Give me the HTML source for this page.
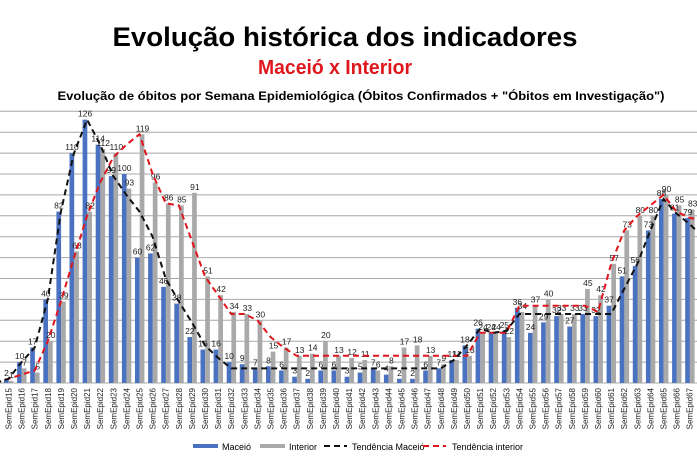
<!DOCTYPE html>
<html><head><meta charset="utf-8"><style>body{margin:0;background:#fff}svg{display:block}text{font-family:"Liberation Sans",Arial,sans-serif}</style></head><body>
<svg id="s" width="697" height="465" xmlns="http://www.w3.org/2000/svg">
<text x="345" y="46" text-anchor="middle" font-size="27" font-weight="bold" textLength="465" lengthAdjust="spacingAndGlyphs">Evolução histórica dos indicadores</text>
<text x="335" y="74" text-anchor="middle" font-size="20" font-weight="bold" fill="#e0161d" textLength="154" lengthAdjust="spacingAndGlyphs">Maceió x Interior</text>
<text x="361" y="100" text-anchor="middle" font-size="12" font-weight="bold" textLength="607" lengthAdjust="spacingAndGlyphs">Evolução de óbitos por Semana Epidemiológica (Óbitos Confirmados + "Óbitos em Investigação")</text>
<g id="g"></g>
</svg>
<script>
var M={14:0,15:2,16:10,17:17,18:40,19:82,20:110,21:126,22:114,23:99,24:100,25:60,26:62,27:46,28:38,29:22,30:16,31:16,32:10,33:9,34:7,35:8,36:6,37:3,38:2,39:6,40:6,41:3,42:5,43:7,44:4,45:2,46:2,47:6,48:7,49:11,50:18,51:26,52:24,53:25,54:36,55:24,56:29,57:32,58:27,59:33,60:32,61:37,62:51,63:56,64:73,65:88,66:81,67:79};
var I={14:0,15:1,16:7,17:5,18:20,19:39,20:63,21:82,22:112,23:110,24:93,25:119,26:96,27:86,28:85,29:91,30:51,31:42,32:34,33:33,34:30,35:15,36:17,37:13,38:14,39:20,40:13,41:12,42:11,43:6,44:8,45:17,46:18,47:13,48:9,49:11,50:13,51:24,52:24,53:22,54:34,55:37,56:40,57:33,58:33,59:45,60:42,61:57,62:73,63:80,64:80,65:90,66:85,67:83};
var TB={14:0,15:2,16:10,17:17,18:40,19:82,20:110,21:126,22:114,23:99,24:90,25:82,26:70,27:50,28:39,29:29,30:18,31:12,32:7,33:7,48:7,49:11,50:18,51:26,52:24,53:25,54:33,61:33,62:45,63:57,64:73,65:88,66:81,67:76,68:70};
var TR={14:0,15:2,16:4,17:6,18:20,19:39,20:60,21:80,22:96,23:108,24:114,25:119,26:100,27:86,28:85,29:68,30:51,31:42,32:33,33:33,34:30,35:22,36:17,37:13,50:13,51:24,52:24,53:24,54:37,59:37,60:34,61:57,62:73,63:80,64:85,65:90,66:82,67:79,68:78};
var b=383,k=2.09;function X(w){return 8.5+(w-15)*13.1}function Y(v){return b-v*k}
var h='';
for(var v=0;v<=130;v+=10)h+='<line x1="0" x2="697" y1="'+Y(v)+'" y2="'+Y(v)+'" stroke="#a8a8a8" stroke-width="1"/>';
for(var w=14;w<=68;w++){var c=X(w);
 if(M[w]!=null){h+='<rect x="'+(c-4.5)+'" y="'+Y(M[w])+'" width="4.7" height="'+M[w]*k+'" fill="#4a72c0"/>';
 h+='<rect x="'+(c+0.2)+'" y="'+Y(I[w])+'" width="4.7" height="'+I[w]*k+'" fill="#a9a9a9"/>';
 if(w>14){h+='<text x="'+(c-2)+'" y="'+(Y(M[w])-3)+'" font-size="8.5" text-anchor="middle" fill="#222">'+M[w]+'</text>';
 h+='<text x="'+(c+3)+'" y="'+(Y(I[w])-3)+'" font-size="8.5" text-anchor="middle" fill="#222">'+I[w]+'</text>';}}
 h+='<text transform="translate('+(c+3)+',388) rotate(-90)" font-size="8" text-anchor="end" fill="#222">SemEpid'+w+'</text>';}
function P(T){var ks=Object.keys(T).map(Number).sort(function(a,b){return a-b}),p=[];for(var i=0;i<ks.length;i++)p.push(X(ks[i]).toFixed(1)+','+Y(T[ks[i]]).toFixed(1));return p.join(' ')}
h+='<polyline points="'+P(TR)+'" fill="none" stroke="#e0161d" stroke-width="2" stroke-dasharray="6,4"/>';
h+='<polyline points="'+P(TB)+'" fill="none" stroke="#111" stroke-width="2" stroke-dasharray="6,4"/>';
h+='<rect x="193" y="444" width="25" height="4" fill="#4a72c0"/><text x="222" y="450" font-size="9">Maceió</text>';
h+='<rect x="260" y="444" width="25" height="4" fill="#a9a9a9"/><text x="289" y="450" font-size="9">Interior</text>';
h+='<line x1="324" x2="347" y1="446" y2="446" stroke="#111" stroke-width="2" stroke-dasharray="6,4"/><text x="352" y="450" font-size="9">Tendência Maceió</text>';
h+='<line x1="423" x2="446" y1="446" y2="446" stroke="#e0161d" stroke-width="2" stroke-dasharray="6,4"/><text x="452" y="450" font-size="9">Tendência interior</text>';
document.getElementById('g').innerHTML=h;
</script>
</body></html>
